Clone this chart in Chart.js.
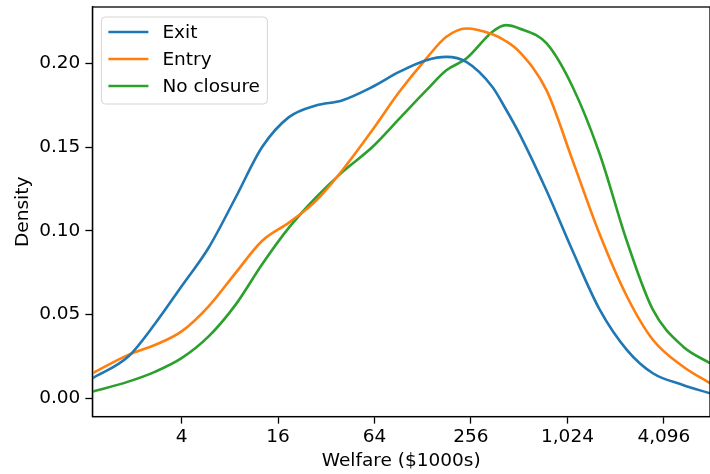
<!DOCTYPE html>
<html>
<head>
<meta charset="utf-8">
<script src="https://cdn.jsdelivr.net/npm/chart.js@4/dist/chart.umd.min.js"></script>
<style>
  html, body { margin: 0; padding: 0; background: #fff; }
  #wrap { width: 710px; height: 474px; }
</style>
</head>
<body>
<div id="wrap"><canvas id="myChart"></canvas></div>
<script>
// welfare ($1000s), log-spaced grid
var welfare = [1.11, 1.86, 2.75, 4, 5.9, 8.7, 12.7, 18.7, 27.6, 40.1, 61.8, 91.2, 134.6, 179.7, 239.5, 348.5, 421, 514, 759, 1104, 1628, 2404, 3494, 5386, 7945];
var exitDensity =    [0.012, 0.025, 0.045, 0.067, 0.090, 0.120, 0.150, 0.168, 0.175, 0.178, 0.186, 0.195, 0.202, 0.204, 0.201, 0.186, 0.173, 0.158, 0.124, 0.088, 0.053, 0.029, 0.015, 0.008, 0.003];
var entryDensity =   [0.015, 0.026, 0.032, 0.040, 0.055, 0.075, 0.094, 0.105, 0.118, 0.136, 0.160, 0.183, 0.203, 0.216, 0.221, 0.2175, 0.2135, 0.207, 0.184, 0.142, 0.098, 0.061, 0.035, 0.019, 0.009];
var noClosureDensity = [0.004, 0.010, 0.016, 0.024, 0.037, 0.056, 0.080, 0.102, 0.120, 0.135, 0.150, 0.167, 0.184, 0.196, 0.203, 0.219, 0.223, 0.221, 0.212, 0.186, 0.146, 0.094, 0.053, 0.031, 0.021];
var xTicks = [4, 16, 64, 256, 1024, 4096];
var yTicks = [0, 0.05, 0.10, 0.15, 0.20];

var FONT = "'DejaVu Sans', sans-serif";
var FS = 18.5;

function pts(ys) {
	return ys.map(function(y, i) { return { x: welfare[i], y: y }; });
}

// box spines + legend drawn inside the axes, matplotlib style
var framePlugin = {
	id: 'frame',
	afterDraw: function(chart) {
		var ctx = chart.ctx, a = chart.chartArea;
		ctx.save();
		ctx.strokeStyle = '#000';
		ctx.lineWidth = 1.3;
		ctx.strokeRect(a.left, a.top, a.right - a.left, a.bottom - a.top);

		// legend
		var x0 = a.left + 9, y0 = a.top + 10, w = 166, h = 87, r = 4;
		ctx.beginPath();
		ctx.moveTo(x0 + r, y0);
		ctx.arcTo(x0 + w, y0, x0 + w, y0 + h, r);
		ctx.arcTo(x0 + w, y0 + h, x0, y0 + h, r);
		ctx.arcTo(x0, y0 + h, x0, y0, r);
		ctx.arcTo(x0, y0, x0 + w, y0, r);
		ctx.closePath();
		ctx.fillStyle = 'rgba(255,255,255,0.8)';
		ctx.fill();
		ctx.lineWidth = 1;
		ctx.strokeStyle = '#d5d5d5';
		ctx.stroke();

		ctx.font = FS + 'px ' + FONT;
		ctx.textBaseline = 'middle';
		chart.data.datasets.forEach(function(ds, i) {
			var yy = y0 + 15 + i * 27;
			ctx.strokeStyle = ds.borderColor;
			ctx.lineWidth = 2.6;
			ctx.beginPath();
			ctx.moveTo(x0 + 7, yy);
			ctx.lineTo(x0 + 47, yy);
			ctx.stroke();
			ctx.fillStyle = '#000';
			ctx.fillText(ds.label, x0 + 61, yy + 1);
		});
		ctx.restore();
	}
};

var ctx = document.getElementById('myChart').getContext('2d');
new Chart(ctx, {
	type: 'line',
	data: {
		datasets: [{
			label: 'Exit',
			data: pts(exitDensity),
			borderColor: '#1f77b4'
		}, {
			label: 'Entry',
			data: pts(entryDensity),
			borderColor: '#ff7f0e'
		}, {
			label: 'No closure',
			data: pts(noClosureDensity),
			borderColor: '#2ca02c'
		}]
	},
	options: {
		responsive: true,
		maintainAspectRatio: false,
		animation: false,
		layout: { padding: { left: 12, right: 0, top: 7, bottom: 2 } },
		elements: {
			point: { radius: 0 },
			line: { borderWidth: 2.6, cubicInterpolationMode: 'monotone', fill: false }
		},
		plugins: {
			legend: { display: false },
			tooltip: { enabled: false }
		},
		scales: {
			x: {
				type: 'logarithmic',
				min: 1.11,
				max: 7945,
				afterBuildTicks: function(scale) {
					scale.ticks = xTicks.map(function(v) { return { value: v }; });
				},
				ticks: {
					color: '#000',
					font: { family: FONT, size: FS },
					padding: 2,
					autoSkip: false,
					maxRotation: 0,
					callback: function(v) { return Number(v).toLocaleString('en-US'); }
				},
				grid: { display: true, drawOnChartArea: false, tickLength: 7, color: '#000', tickWidth: 1.3 },
				border: { display: true, color: '#000', width: 1.3 },
				title: { display: true, text: 'Welfare ($1000s)', color: '#000', font: { family: FONT, size: FS }, padding: { top: 0, bottom: 0 } }
			},
			y: {
				min: -0.0109,
				max: 0.2338,
				afterBuildTicks: function(scale) {
					scale.ticks = yTicks.map(function(v) { return { value: v }; });
				},
				afterFit: function(scale) {
					scale.paddingTop = 0;
					scale.paddingBottom = 0;
				},
				ticks: {
					color: '#000',
					font: { family: FONT, size: FS },
					padding: 5,
					callback: function(v) { return Number(v).toFixed(2); }
				},
				grid: { display: true, drawOnChartArea: false, tickLength: 7, color: '#000', tickWidth: 1.3 },
				border: { display: true, color: '#000', width: 1.3 },
				title: { display: true, text: 'Density', color: '#000', font: { family: FONT, size: FS }, padding: { top: 0, bottom: 0 } }
			}
		}
	},
	plugins: [framePlugin]
});
</script>
</body>
</html>
